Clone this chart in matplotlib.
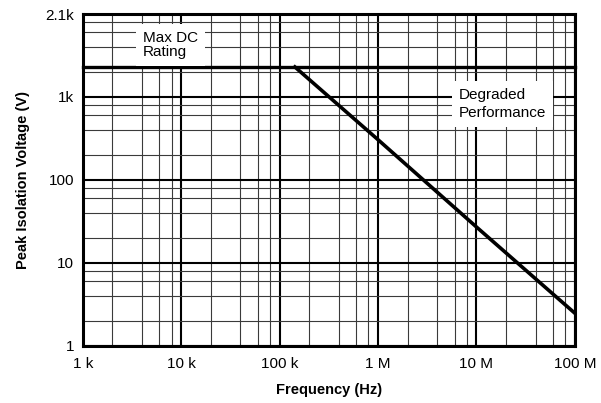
"""Peak isolation voltage vs frequency (log-log derating curve)."""
import matplotlib
matplotlib.use("Agg")
import matplotlib.pyplot as plt
from matplotlib.ticker import LogLocator, NullFormatter

# derating curve
freq_hz = [143e3, 1e6, 10e6, 100e6]
peak_volts = [2300, 305, 27, 2.46]
max_dc_rating = 2300

x_ticks = [1e3, 1e4, 1e5, 1e6, 1e7, 1e8]
x_tick_labels = ["1 k", "10 k", "100 k", "1 M", "10 M", "100 M"]
y_ticks = [1, 10, 100, 1000, 10000]
y_tick_labels = ["1", "10", "100", "1k", "2.1k"]


def main() -> None:
    plt.rcParams["font.family"] = ["Liberation Sans", "DejaVu Sans"]

    fig = plt.figure(figsize=(6.01, 4.03), dpi=100)
    ax = fig.add_axes([0.1376, 0.1422, 0.819, 0.823])
    ax.set_xscale("log")
    ax.set_yscale("log")
    ax.set_xlim(x_ticks[0], x_ticks[-1])
    ax.set_ylim(y_ticks[0], y_ticks[-1])

    ax.set_xticks(x_ticks)
    ax.set_xticklabels(x_tick_labels, fontsize=11)
    ax.set_yticks(y_ticks)
    ax.set_yticklabels(y_tick_labels, fontsize=11)
    for axis in (ax.xaxis, ax.yaxis):
        axis.set_minor_locator(LogLocator(base=10, subs=[2, 4, 6, 8]))
        axis.set_minor_formatter(NullFormatter())
    ax.tick_params(which="both", length=0)
    ax.tick_params(axis="x", pad=8)
    ax.tick_params(axis="y", pad=6)

    ax.grid(which="major", color="black", linewidth=1.5, zorder=1)
    ax.grid(which="minor", color="#3a3a3a", linewidth=0.8, zorder=1)
    ax.set_axisbelow(True)
    for sp in ax.spines.values():
        sp.set_linewidth(2.2)

    ax.axhline(max_dc_rating, color="black", linewidth=2.4, zorder=3, clip_on=False)
    ax.plot(freq_hz, peak_volts, color="black", linewidth=2.6, zorder=3)

    box = dict(facecolor="white", edgecolor="none", pad=5)
    ax.text(0.1225, 0.9065, "Max DC\nRating", transform=ax.transAxes, fontsize=11,
            ha="left", va="center", linespacing=0.95, bbox=box, zorder=4)
    ax.text(0.764, 0.7287, "Degraded\nPerformance", transform=ax.transAxes, fontsize=11,
            ha="left", va="center", linespacing=1.3, bbox=box, zorder=4)

    ax.set_xlabel("Frequency (Hz)", fontsize=10.5, fontweight="bold", labelpad=9)
    ax.set_ylabel("Peak Isolation Voltage (V)", fontsize=10.5, fontweight="bold", labelpad=11)

    fig.savefig("out.png", dpi=100)


if __name__ == "__main__":
    main()
